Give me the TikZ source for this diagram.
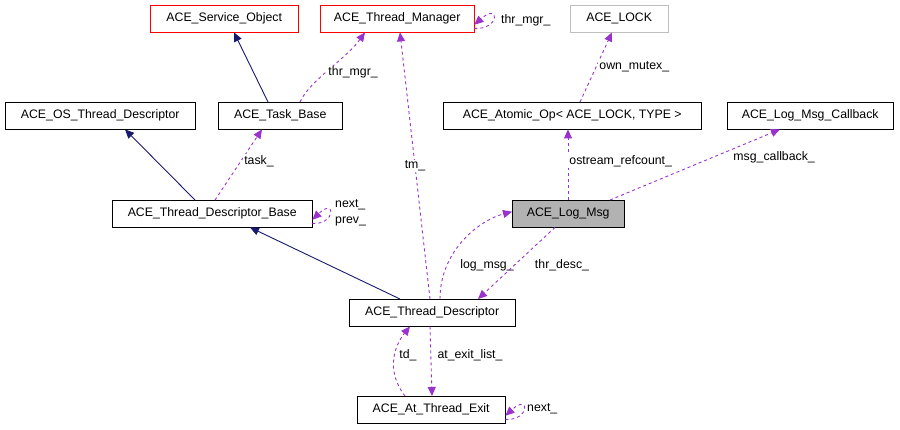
\documentclass[tikz,border=0pt]{standalone}
\usepackage{fontspec}
\setmainfont{Liberation Sans}
\usetikzlibrary{arrows.meta}
\definecolor{pur}{HTML}{9A32CD}
\definecolor{nav}{HTML}{191970}
\begin{document}
\begin{tikzpicture}[x=1pt,y=-1pt,
 box/.style={draw=black,fill=white,minimum height=27pt,inner sep=0pt,font=\fontsize{12.3}{14}\selectfont,anchor=north west},
 inh/.style={draw=nav,-{Triangle[length=9pt,width=8pt]},line width=0.9pt},
 use/.style={draw=pur,dashed,-{Triangle[length=9pt,width=8pt]},line width=0.9pt},
 lab/.style={font=\fontsize{12.3}{14}\selectfont,fill=white,inner sep=1pt}]
\useasboundingbox (0,0) rectangle (900,429);
\node[box,draw=red,minimum width=148pt] (so) at (150,5) {ACE\_Service\_Object};
\node[box,draw=red,minimum width=154pt] (tm) at (320,5) {ACE\_Thread\_Manager};
\node[box,draw=black!25,minimum width=98pt] (lock) at (570,5) {ACE\_LOCK};
\node[box,minimum width=190pt] (os) at (5,102) {ACE\_OS\_Thread\_Descriptor};
\node[box,minimum width=124pt] (tb) at (218,102) {ACE\_Task\_Base};
\node[box,minimum width=258pt] (ao) at (443,102) {ACE\_Atomic\_Op< ACE\_LOCK, TYPE >};
\node[box,minimum width=166pt] (cb) at (727,102) {ACE\_Log\_Msg\_Callback};
\node[box,minimum width=200pt] (tdb) at (112,200) {ACE\_Thread\_Descriptor\_Base};
\node[box,fill=black!30,minimum width=112pt] (lm) at (512,200) {ACE\_Log\_Msg};
\node[box,minimum width=166pt] (td) at (349,299) {ACE\_Thread\_Descriptor};
\node[box,minimum width=148pt] (ate) at (357,396) {ACE\_At\_Thread\_Exit};

\draw[inh] (tb.north -| 268,0) -- (so.south -| 234,0);
\draw[inh] (tdb.north -| 195,0) -- (os.south -| 125,0);
\draw[inh] (td.north -| 400,0) -- (tdb.south -| 250,0);

\draw[use] (tb.north -| 300,0) .. controls (310,80) and (345,60) .. (tm.south -| 365,0) node[lab,pos=0.45,right=2pt] {thr\_mgr\_};
\draw[use] (tm.south east) ++(0,-4) .. controls (500,30) and (500,2) .. ([yshift=-6pt]tm.east);
\node[lab,anchor=west] at (500,20) {thr\_mgr\_};
\draw[use] (tdb.north -| 215,0) -- (tb.south -| 262,0) node[lab,pos=0.55,right=2pt] {task\_};
\draw[use] (tdb.south east) ++(0,-4) .. controls (336,225) and (336,197) .. ([yshift=-6pt]tdb.east);
\node[lab,anchor=west] at (334,205) {next\_};
\node[lab,anchor=west] at (334,221) {prev\_};
\draw[use] (td.north -| 430,0) -- (tm.south -| 400,0) node[lab,pos=0.5] {tm\_};
\draw[use] (ao.north -| 580,0) -- (lock.south -| 612,0) node[lab,pos=0.5,right=2pt] {own\_mutex\_};
\draw[use] (lm.north -| 568,0) -- (ao.south -| 568,0) node[lab,pos=0.55,right=0pt] {ostream\_refcount\_};
\draw[use] (lm.north -| 610,0) -- (cb.south -| 780,0) node[lab,pos=0.6,right=20pt,fill=none] {msg\_callback\_};
\draw[use] (td.north -| 440,0) .. controls (440,250) and (480,220) .. ([yshift=2pt]lm.west);
\node[lab] at (487,265) {log\_msg\_};
\draw[use] (lm.south -| 555,0) -- (td.north -| 478,0);
\node[lab] at (562,265) {thr\_desc\_};
\draw[use] (ate.north -| 405,0) .. controls (385,370) and (395,345) .. (td.south -| 410,0);
\node[lab] at (408,355) {td\_};
\draw[use] (td.south -| 430,0) -- (ate.north -| 432,0);
\node[lab] at (470,355) {at\_exit\_list\_};
\draw[use] (ate.south east) ++(0,-4) .. controls (530,421) and (530,393) .. ([yshift=-6pt]ate.east);
\node[lab,anchor=west] at (526,409) {next\_};
\end{tikzpicture}
\end{document}
